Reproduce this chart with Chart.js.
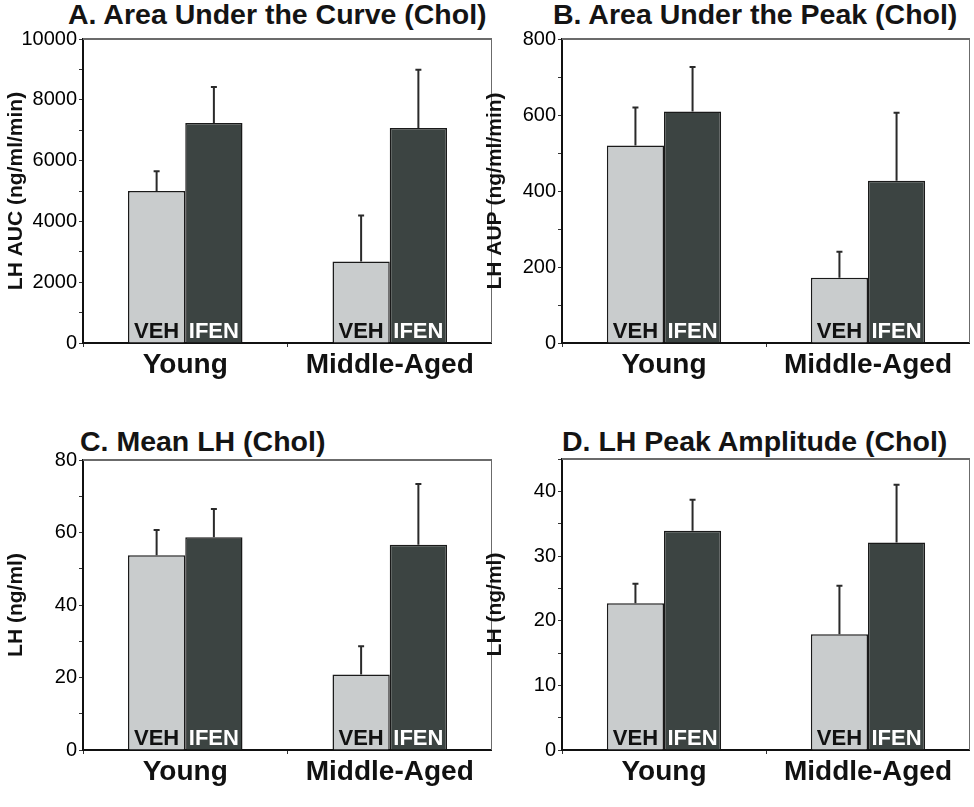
<!DOCTYPE html>
<html>
<head>
<meta charset="utf-8">
<script src="https://cdn.jsdelivr.net/npm/chart.js@4.4.1/dist/chart.umd.min.js"></script>
<style>
  body { margin: 0; background: #fff; width: 974px; height: 807px; position: relative; overflow: hidden; }
  .panel { position: absolute; }
  .ttl { position: absolute; font-family: "Liberation Sans", Arial, sans-serif; font-weight: bold; font-size: 28.5px; color: #141414; white-space: nowrap; line-height: 1; }
</style>
</head>
<body>
<div class="ttl" style="left:68px;top:0px">A. Area Under the Curve (Chol)</div>
<div class="ttl" style="left:553px;top:0px">B. Area Under the Peak (Chol)</div>
<div class="ttl" style="left:80px;top:427px">C. Mean LH (Chol)</div>
<div class="ttl" style="left:562px;top:427px">D. LH Peak Amplitude (Chol)</div>

<div class="panel" style="left:0;top:0;width:492px;height:400px"><canvas id="chartA"></canvas></div>
<div class="panel" style="left:479px;top:0;width:491px;height:400px"><canvas id="chartB"></canvas></div>
<div class="panel" style="left:0;top:421px;width:492px;height:386px"><canvas id="chartC"></canvas></div>
<div class="panel" style="left:479px;top:421px;width:491px;height:386px"><canvas id="chartD"></canvas></div>

<script>
const groups = ["Young", "Middle-Aged"];
const treatments = ["VEH", "IFEN"];

// A. Area under the curve (ng/ml/min)
const aucVeh = [5000, 2680];
const aucVehErr = [650, 1510];
const aucIfen = [7240, 7070];
const aucIfenErr = [1180, 1920];

// B. Area under the peak (ng/ml/min)
const aupVeh = [520, 172];
const aupVehErr = [100, 68];
const aupIfen = [609, 427];
const aupIfenErr = [117, 179];

// C. Mean LH (ng/ml)
const meanVeh = [53.7, 20.8];
const meanVehErr = [7.0, 7.8];
const meanIfen = [58.7, 56.6];
const meanIfenErr = [7.8, 16.8];

// D. LH peak amplitude (ng/ml)
const ampVeh = [22.7, 17.9];
const ampVehErr = [3.0, 7.5];
const ampIfen = [33.9, 32.1];
const ampIfenErr = [4.8, 8.9];

const font = '"Liberation Sans", Arial, sans-serif';
const vehColor = "#c9cccd";
const ifenColor = "#3c4442";

// draws the top/right frame, the error whiskers and the VEH / IFEN labels
const extras = {
    id: "extras",
    afterDatasetsDraw(chart) {
        const ctx = chart.ctx;
        const area = chart.chartArea;
        const y = chart.scales.y;
        ctx.save();
        ctx.strokeStyle = "#6b6b6b";
        ctx.lineWidth = 2;
        ctx.beginPath();
        ctx.moveTo(area.left, area.top);
        ctx.lineTo(area.right, area.top);
        ctx.lineTo(area.right, area.bottom);
        ctx.stroke();

        chart.data.datasets.forEach((ds, di) => {
            const meta = chart.getDatasetMeta(di);
            meta.data.forEach((bar, i) => {
                const top = y.getPixelForValue(ds.data[i] + ds.errors[i]);
                ctx.strokeStyle = "#2a2a2a";
                ctx.lineWidth = 2;
                ctx.beginPath();
                ctx.moveTo(bar.x, bar.y);
                ctx.lineTo(bar.x, top);
                ctx.moveTo(bar.x - 3, top);
                ctx.lineTo(bar.x + 3, top);
                ctx.stroke();

                ctx.font = "bold 22px " + font;
                ctx.textAlign = "center";
                ctx.textBaseline = "alphabetic";
                ctx.fillStyle = di === 0 ? "#111" : "#fff";
                ctx.fillText(ds.label, bar.x, bar.base - 5);
            });
        });
        ctx.restore();
    }
};

function makeChart(id, yTitle, veh, vehErr, ifen, ifenErr, max, step, labelStep, topPad) {
    return new Chart(document.getElementById(id), {
        type: "bar",
        data: {
            labels: groups,
            datasets: [
                { label: treatments[0], data: veh, errors: vehErr, backgroundColor: vehColor, borderColor: "#1a1a1a", borderWidth: 1.5 },
                { label: treatments[1], data: ifen, errors: ifenErr, backgroundColor: ifenColor, borderColor: "#1a1a1a", borderWidth: 1.5 }
            ]
        },
        options: {
            responsive: true,
            maintainAspectRatio: false,
            animation: false,
            layout: { padding: { top: topPad, right: 0, left: 0, bottom: 0 } },
            plugins: { legend: { display: false }, tooltip: { enabled: false } },
            datasets: { bar: { categoryPercentage: 0.56, barPercentage: 1 } },
            scales: {
                x: {
                    grid: { display: true, drawOnChartArea: false, tickLength: 4, color: "#333" },
                    border: { color: "#111", width: 2 },
                    ticks: { color: "#111", padding: 1, font: { family: font, size: 28, weight: "bold" } },
                    afterFit: (s) => { s.height = 57; }
                },
                y: {
                    min: 0, max: max,
                    grid: { display: true, drawOnChartArea: false, tickLength: 4, color: "#333" },
                    border: { color: "#111", width: 2 },
                    ticks: {
                        stepSize: step, color: "#000", padding: 2,
                        font: { family: font, size: 20 },
                        callback: (v) => (v % labelStep === 0 ? v : "")
                    },
                    title: { display: true, text: yTitle, color: "#111", padding: { top: 4, bottom: 0 }, font: { family: font, size: 21, weight: "bold" } },
                    afterFit: (s) => { s.width = 83; }
                }
            }
        },
        plugins: [extras]
    });
}

makeChart("chartA", "LH AUC (ng/ml/min)", aucVeh, aucVehErr, aucIfen, aucIfenErr, 10000, 1000, 2000, 39);
makeChart("chartB", "LH AUP (ng/ml/min)", aupVeh, aupVehErr, aupIfen, aupIfenErr, 800, 100, 200, 39);
makeChart("chartC", "LH (ng/ml)", meanVeh, meanVehErr, meanIfen, meanIfenErr, 80, 10, 20, 39);
makeChart("chartD", "LH (ng/ml)", ampVeh, ampVehErr, ampIfen, ampIfenErr, 45, 5, 10, 38);
</script>
</body>
</html>
